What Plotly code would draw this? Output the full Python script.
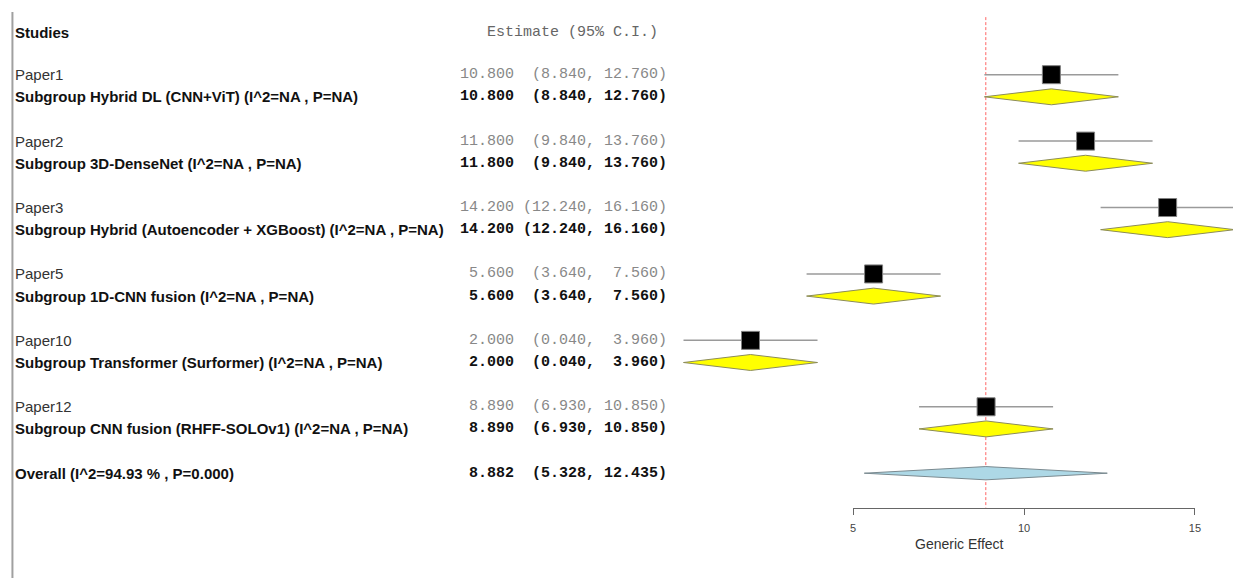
import plotly.graph_objects as go

# ---- data -------------------------------------------------------------
studies = ["Paper1", "Paper2", "Paper3", "Paper5", "Paper10", "Paper12"]
subgroups = [
    "Hybrid DL (CNN+ViT)",
    "3D-DenseNet",
    "Hybrid (Autoencoder + XGBoost)",
    "1D-CNN fusion",
    "Transformer (Surformer)",
    "CNN fusion (RHFF-SOLOv1)",
]
estimate = [10.800, 11.800, 14.200, 5.600, 2.000, 8.890]
ci_lower = [8.840, 9.840, 12.240, 3.640, 0.040, 6.930]
ci_upper = [12.760, 13.760, 16.160, 7.560, 3.960, 10.850]

overall_est = 8.882
overall_lower = 5.328
overall_upper = 12.435
overall_i2 = 94.93
overall_p = 0.000

axis_ticks = [5, 10, 15]
axis_title = "Generic Effect"

# ---- layout geometry --------------------------------------------------
W, H = 1239, 578
ROW0_PX, ROW_PX = 30.4, 22.14          # pixel centre of row 0 and row height
X0_PX, UNIT_PX = 684.1, 34.44          # pixel of effect 0 and pixels per unit

n = len(studies)
study_rows = [2 + 3 * i for i in range(n)]
sub_rows = [3 + 3 * i for i in range(n)]
overall_row = 3 * n + 2
axis_row = overall_row + 1.55


def row_to_paper(r):
    return 1 - (ROW0_PX + ROW_PX * r) / H


def val_to_px(v):
    return X0_PX + UNIT_PX * v


NB = "\u00a0"


def fmt_ci(e, lo, hi):
    s = f"{e:6.3f} {('(' + format(lo, '.3f') + ','):>8} {(format(hi, '.3f') + ')'):>7}"
    return s.replace(" ", NB)


fig = go.Figure()

# reference line at the pooled estimate
fig.add_trace(go.Scatter(
    x=[overall_est, overall_est], y=[-0.6, axis_row],
    mode="lines", line=dict(color="#ff6464", width=1, dash="3px,2px"),
    hoverinfo="skip", showlegend=False))

# study confidence intervals
wx, wy = [], []
for lo, hi, r in zip(ci_lower, ci_upper, study_rows):
    wx += [lo, hi, None]
    wy += [r, r, None]
fig.add_trace(go.Scatter(
    x=wx, y=wy, mode="lines", line=dict(color="#9a9a9a", width=1.5),
    hoverinfo="skip", showlegend=False))

# study point estimates
fig.add_trace(go.Scatter(
    x=estimate, y=study_rows, mode="markers",
    marker=dict(symbol="square", size=18, color="black",
                line=dict(color="#808080", width=1)),
    hoverinfo="skip", showlegend=False))

# subgroup diamonds
DH = 0.36
for e, lo, hi, r in zip(estimate, ci_lower, ci_upper, sub_rows):
    fig.add_trace(go.Scatter(
        x=[lo, e, hi, e, lo], y=[r, r - DH, r, r + DH, r],
        mode="lines", fill="toself", fillcolor="#ffff00",
        line=dict(color="#8c8c5a", width=1),
        hoverinfo="skip", showlegend=False))

# overall diamond
ODH = 0.3
fig.add_trace(go.Scatter(
    x=[overall_lower, overall_est, overall_upper, overall_est, overall_lower],
    y=[overall_row, overall_row - ODH, overall_row, overall_row + ODH, overall_row],
    mode="lines", fill="toself", fillcolor="#add8e6",
    line=dict(color="#7a8a90", width=1),
    hoverinfo="skip", showlegend=False))

# carrier for the effect axis
fig.add_trace(go.Scatter(
    x=axis_ticks, y=[axis_row] * len(axis_ticks), xaxis="x2",
    mode="markers", marker=dict(opacity=0), hoverinfo="skip", showlegend=False))

# ---- text columns -----------------------------------------------------
SANS = "Liberation Sans, Arial, sans-serif"
MONO = "Liberation Mono, Courier New, monospace"
LABEL_X = 11 / W
EST_X = 670 / W
ann = []


def label(text, r, color, x=LABEL_X, anchor="left", family=SANS, size=15):
    ann.append(dict(text=text, x=x, y=row_to_paper(r), xref="paper", yref="paper",
                    xanchor=anchor, yanchor="middle", showarrow=False,
                    font=dict(family=family, size=size, color=color), borderpad=0))


label("<b>Studies</b>", 0.08, "#111")
label("Estimate (95% C.I.)" + NB, 0.08, "#666", x=EST_X, anchor="right", family=MONO, size=15)

for i in range(n):
    label(studies[i], study_rows[i], "#333")
    label(f"<b>Subgroup {subgroups[i]} (I^2=NA , P=NA)</b>", sub_rows[i], "#111")
    label(fmt_ci(estimate[i], ci_lower[i], ci_upper[i]), study_rows[i], "#888",
          x=EST_X, anchor="right", family=MONO, size=15)
    label("<b>" + fmt_ci(estimate[i], ci_lower[i], ci_upper[i]) + "</b>", sub_rows[i], "#111",
          x=EST_X, anchor="right", family=MONO, size=15)

label(f"<b>Overall (I^2={overall_i2:.2f} % , P={overall_p:.3f})</b>", overall_row, "#111")
label("<b>" + fmt_ci(overall_est, overall_lower, overall_upper) + "</b>", overall_row, "#111",
      x=EST_X, anchor="right", family=MONO, size=15)

ann.append(dict(text=axis_title, x=963 / W, y=1 - 544 / H, xref="paper", yref="paper",
                xanchor="center", yanchor="middle", showarrow=False,
                font=dict(family=SANS, size=14, color="#333")))

# left border rule
shapes = [dict(type="line", xref="paper", yref="paper",
               x0=9.5 / W, x1=9.5 / W, y0=1 - 12 / H, y1=0,
               line=dict(color="#a0a0a0", width=2))]

x_lo = -X0_PX / UNIT_PX
x_hi = (W - X0_PX) / UNIT_PX
y_top = -ROW0_PX / ROW_PX
y_bot = (H - ROW0_PX) / ROW_PX

fig.update_layout(
    width=W, height=H,
    margin=dict(l=0, r=0, t=0, b=0),
    paper_bgcolor="white", plot_bgcolor="rgba(0,0,0,0)",
    showlegend=False,
    annotations=ann,
    shapes=shapes,
    xaxis=dict(range=[x_lo, x_hi], domain=[0, 1], visible=False, fixedrange=True),
    yaxis=dict(range=[y_bot, y_top], domain=[0, 1], visible=False, fixedrange=True),
    xaxis2=dict(
        domain=[val_to_px(axis_ticks[0]) / W, val_to_px(axis_ticks[-1]) / W],
        range=[axis_ticks[0], axis_ticks[-1]],
        anchor="free", position=row_to_paper(axis_row), side="bottom",
        showline=True, linecolor="#666", linewidth=1,
        ticks="outside", ticklen=6, tickwidth=1, tickcolor="#666",
        tickvals=axis_ticks, ticktext=[str(t) for t in axis_ticks],
        ticklabelstandoff=4,
        tickfont=dict(family=SANS, size=11, color="#444"),
        showgrid=False, zeroline=False, fixedrange=True),
)

fig.write_html("out.html")
